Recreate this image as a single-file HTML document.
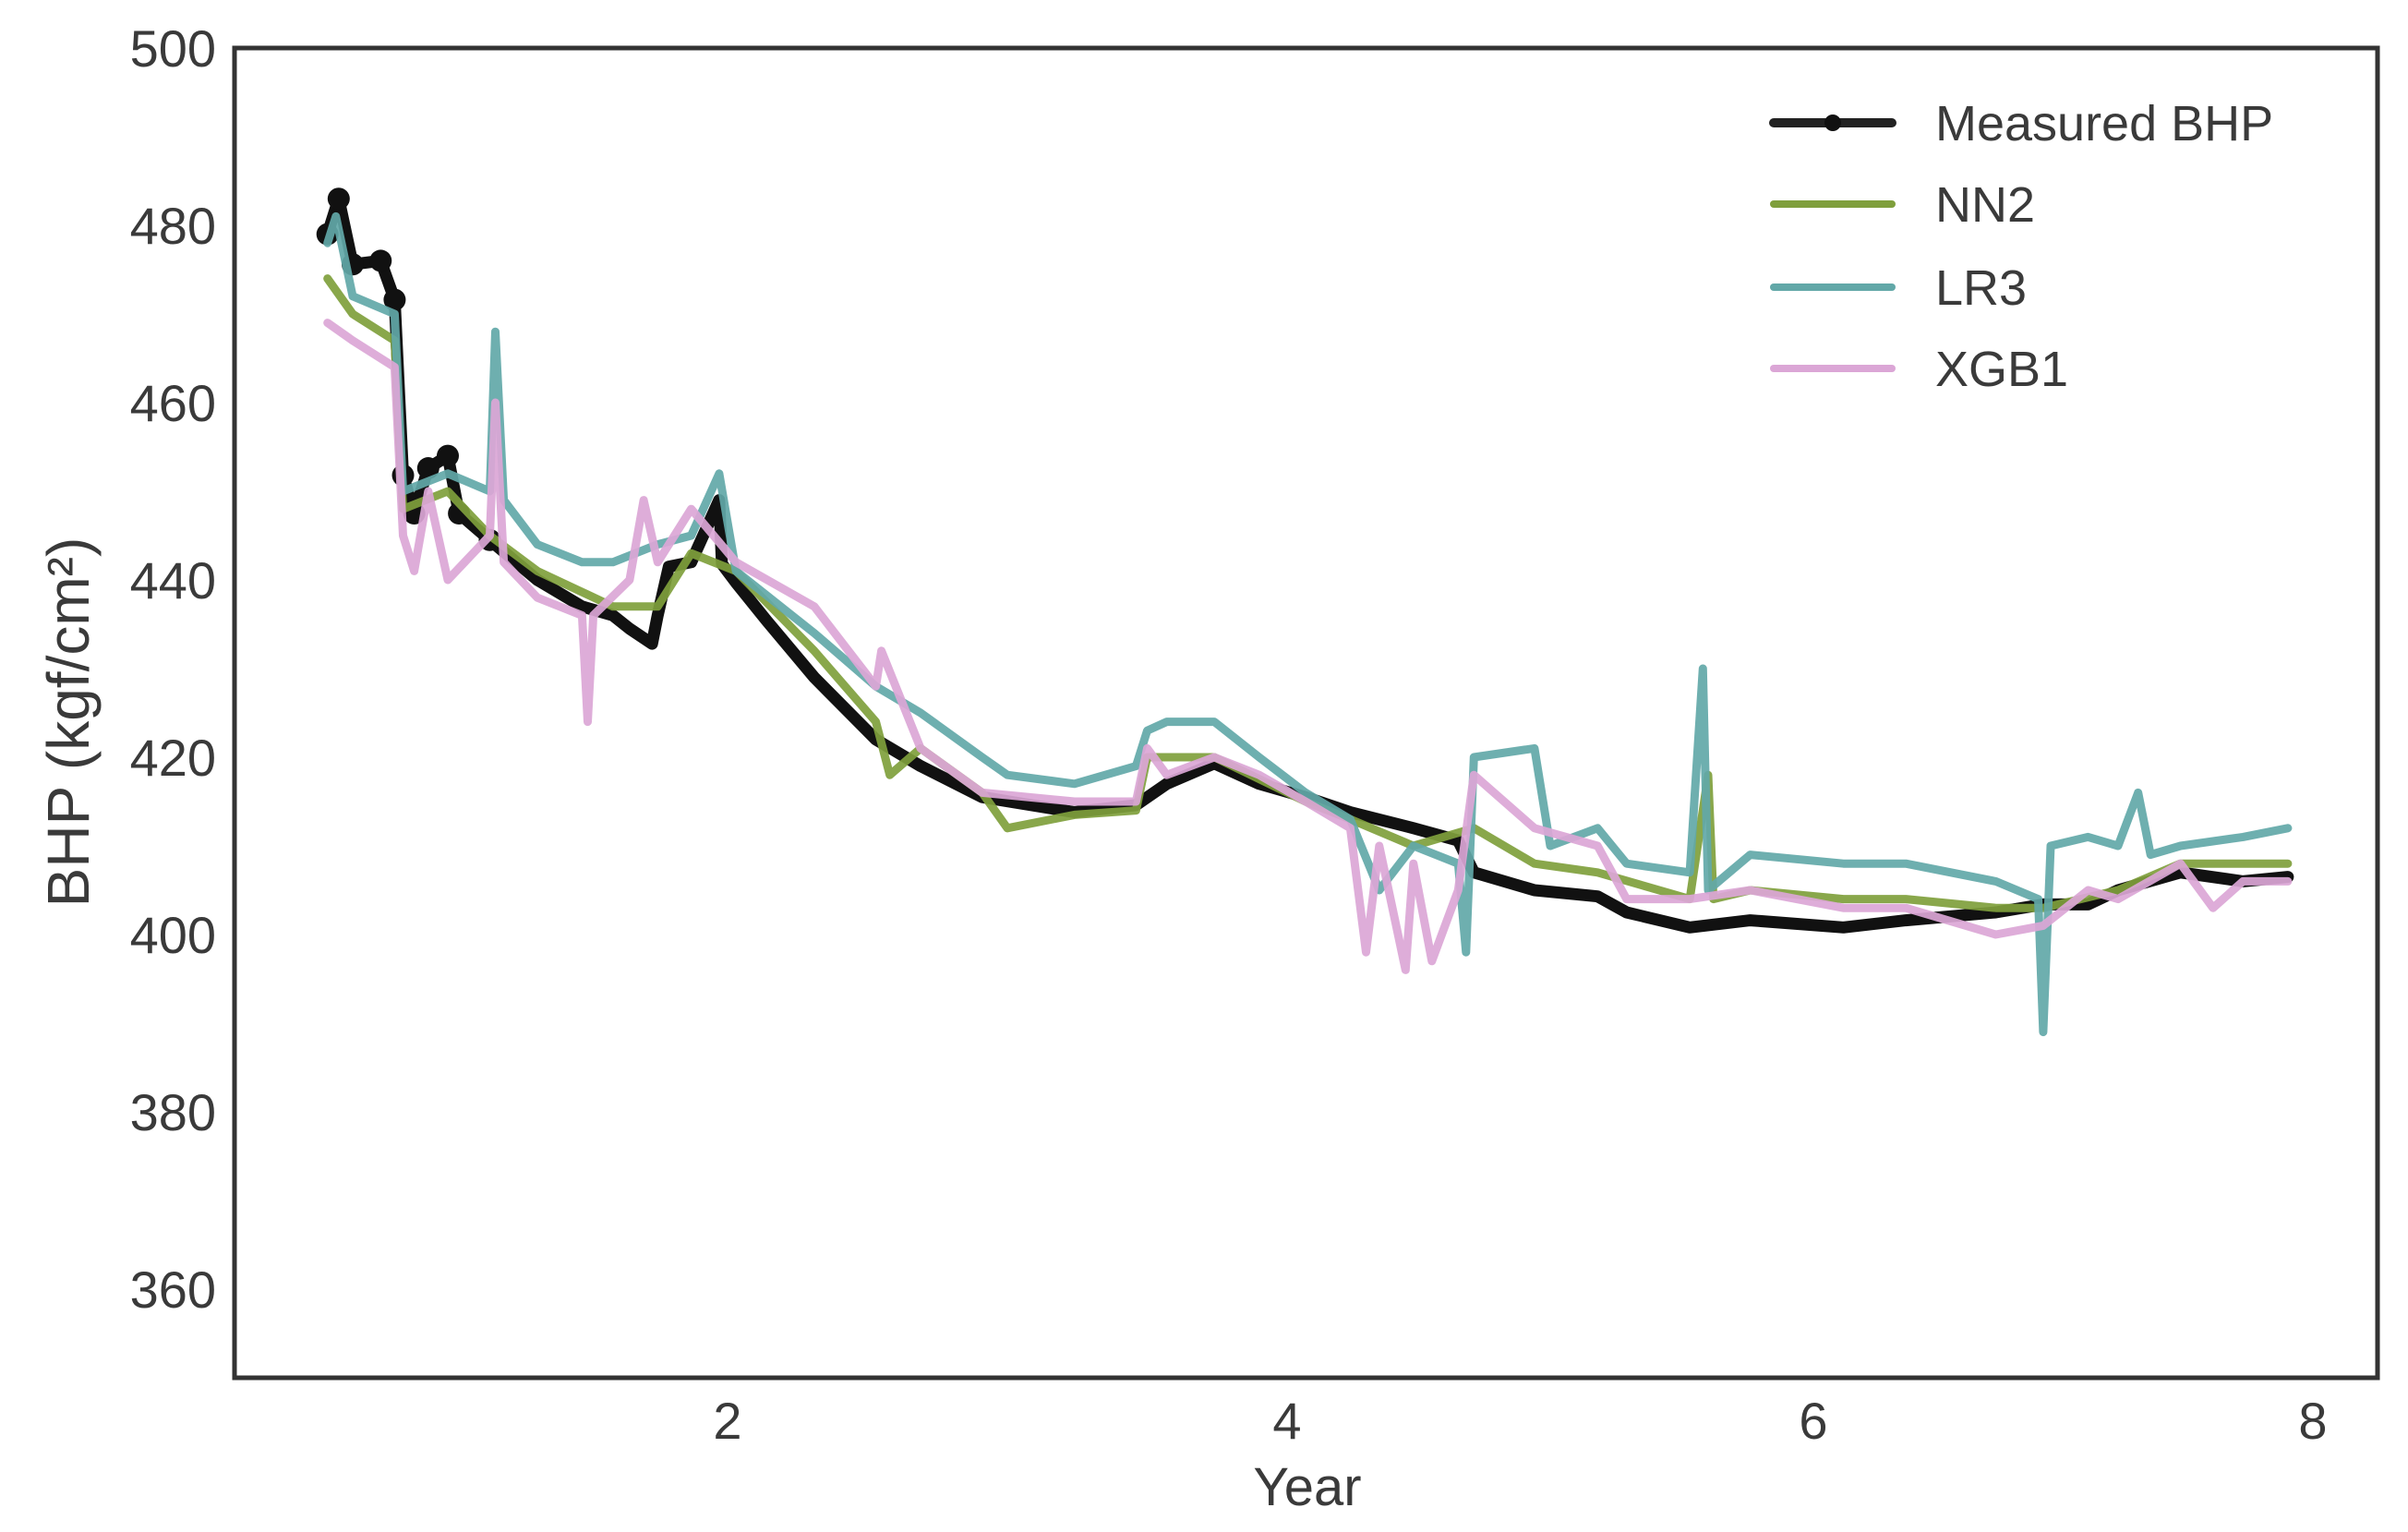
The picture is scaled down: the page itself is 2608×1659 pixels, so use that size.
<!DOCTYPE html>
<html><head><meta charset="utf-8"><style>
html,body{margin:0;padding:0;background:#fff}
svg{display:block}
text{font-family:"Liberation Sans",sans-serif;fill:#3a3a3a}
</style></head><body>
<svg id="chart" width="2608" height="1659" viewBox="0 0 2608 1659" xmlns="http://www.w3.org/2000/svg">
<rect x="0" y="0" width="2608" height="1659" fill="#fff"/>
<g id="series"></g>
<rect x="254" y="52" width="2321" height="1440" fill="none" stroke="#333" stroke-width="5"/>
<g id="yticks"></g>
<g id="xticks"></g>
<text x="1416" y="1630" font-size="58" text-anchor="middle">Year</text>
<text transform="translate(96,782) rotate(-90)" font-size="64" text-anchor="middle">BHP (kgf/cm²)</text>
<g id="legend"></g>
</svg>
<script>
const yTicks=[360,380,400,420,440,460,480,500];
const xTicks=[2,4,6,8];
const seriesNames=["Measured BHP","NN2","LR3","XGB1"];
const measuredX=[0.57,0.61,0.66,0.76,0.81,0.84,0.88,0.93,1.00,1.04,1.15,1.32,1.48,1.59,1.65,1.73,1.75,1.79,1.87,1.97,1.98,2.03,2.14,2.31,2.53,2.69,2.91,3.24,3.46,3.57,3.74,3.90,4.07,4.24,4.48,4.65,4.71,4.94,5.18,5.29,5.53,5.76,6.12,6.37,6.73,6.92,7.10,7.22,7.47,7.72,7.90];
const measuredY=[479,483,475.6,476,471.6,451.8,447.5,452.6,454,447.5,444.5,440,437,436,434.5,432.8,436,441.5,442,449,441.8,439.7,435.4,429,422,419,415.5,413.8,414.6,417,419.3,417,415.5,413.8,412,410.6,407,405,404.3,402.5,400.8,401.6,400.8,401.6,402.5,403.4,403.4,405,407,406,406.5];
const nn2X=[0.57,0.66,0.81,0.84,1.0,1.15,1.32,1.59,1.75,1.87,2.03,2.31,2.53,2.58,2.69,2.91,3.0,3.24,3.46,3.5,3.74,4.07,4.24,4.48,4.71,4.94,5.18,5.53,5.6,5.62,5.76,6.12,6.37,6.73,6.92,7.22,7.47,7.9];
const nn2Y=[474,470,467,448,450,445,441,437,437,443,441,432,424,418,421,416,412,413.5,414,420,420,415,413,410,412,408,407,404,418,404,405,404,404,403,403,405,408,408];
const lr3X=[0.57,0.6,0.66,0.81,0.84,1.0,1.15,1.17,1.2,1.32,1.48,1.59,1.75,1.87,1.97,2.03,2.31,2.53,2.69,2.91,3.0,3.24,3.46,3.5,3.57,3.74,3.90,4.07,4.24,4.35,4.48,4.65,4.68,4.71,4.94,5.0,5.18,5.29,5.53,5.58,5.60,5.76,6.12,6.37,6.73,6.90,6.92,6.95,7.10,7.22,7.3,7.35,7.47,7.72,7.90];
const lr3Y=[478,481,472,470,450,452,450,468,449,444,442,442,444,445,452,441,434,428,425,420,418,417,419,423,424,424,420,416,413,405,410,408,398,420,421,410,412,408,407,430,405,409,408,408,406,404,389,410,411,410,416,409,410,411,412];
const xgbX=[0.57,0.66,0.81,0.84,0.88,0.93,1.0,1.15,1.17,1.2,1.32,1.48,1.50,1.52,1.65,1.70,1.75,1.87,2.03,2.31,2.53,2.55,2.69,2.91,3.24,3.46,3.5,3.57,3.74,3.90,4.07,4.24,4.30,4.35,4.45,4.48,4.55,4.65,4.71,4.94,5.18,5.29,5.53,5.76,6.12,6.37,6.73,6.92,7.10,7.22,7.47,7.6,7.72,7.90];
const xgbY=[469,467,464,445,441,450,440,445,460,442,438,436,424,436,440,449,442,448,442,437,428,432,421,416,415,415,421,418,420,418,415,412,398,410,396,408,397,405,418,412,410,404,404,405,403,403,400,401,405,404,408,403,406,406];

const NS="http://www.w3.org/2000/svg";
const yMin=350,yMax=500,plotTop=52,plotBottom=1492;
function yScale(v){return plotBottom-(v-yMin)/(yMax-yMin)*(plotBottom-plotTop);}
const xKnotsV=[2,4,6,8], xKnotsP=[788,1394,1964,2505];
function xScale(v){
  let i=0;
  if(v<=xKnotsV[0]) i=0; else if(v>=xKnotsV[3]) i=2; else {while(v>xKnotsV[i+1]) i++;}
  const a=xKnotsV[i],b=xKnotsV[i+1],pa=xKnotsP[i],pb=xKnotsP[i+1];
  return pa+(v-a)/(b-a)*(pb-pa);
}
function mk(tag,attrs,parent){const e=document.createElementNS(NS,tag);for(const k in attrs)e.setAttribute(k,attrs[k]);parent.appendChild(e);return e;}

const yt=document.getElementById('yticks');
yTicks.forEach(v=>{
  const t=mk('text',{x:234,y:yScale(v)+20,'font-size':56,'text-anchor':'end'},yt);
  
  
  t.textContent=v;
});
const xt=document.getElementById('xticks');
xTicks.forEach(v=>{
  const t=mk('text',{x:xScale(v),y:1558,'font-size':56,'text-anchor':'middle'},xt);
  
  
  t.textContent=v;
});

const sg=document.getElementById('series');
function line(xs,ys,color,w,op,name){
  const d=xs.map((x,i)=>(i?'L':'M')+xScale(x).toFixed(1)+','+yScale(ys[i]).toFixed(1)).join('');
  const p=mk('path',{d:d,fill:'none',stroke:color,'stroke-width':w,'stroke-linejoin':'round','stroke-linecap':'round',opacity:op},sg);
  
  
}
line(measuredX,measuredY,'#111',13,1,'measured-bhp-line');
measuredX.forEach((x,i)=>{
  if(x<1.2){
    const c=mk('circle',{cx:xScale(x),cy:yScale(measuredY[i]),r:12,fill:'#111'},sg);
    
    
  }
});
line(nn2X,nn2Y,'#7f9f3c',9,0.92,'nn2-line');
line(lr3X,lr3Y,'#62a8a8',9,0.92,'lr3-line');
line(xgbX,xgbY,'#dba6d6',9,0.92,'xgb1-line');

const lg=document.getElementById('legend');
const colors=['#222','#7f9f3c','#62a8a8','#dba6d6'];
const ly=[133,221,311,399];
seriesNames.forEach((n,i)=>{
  const l=mk('line',{x1:1921,x2:2049,y1:ly[i],y2:ly[i],stroke:colors[i],'stroke-width':i?8:10,'stroke-linecap':'round'},lg);
  
  
  if(i===0){const c=mk('circle',{cx:1985,cy:ly[i],r:9,fill:'#111'},lg);
    
    }
  const t=mk('text',{x:2096,y:ly[i]+19,'font-size':54},lg);
  
  
  t.textContent=n;
});
</script>
</body></html>
